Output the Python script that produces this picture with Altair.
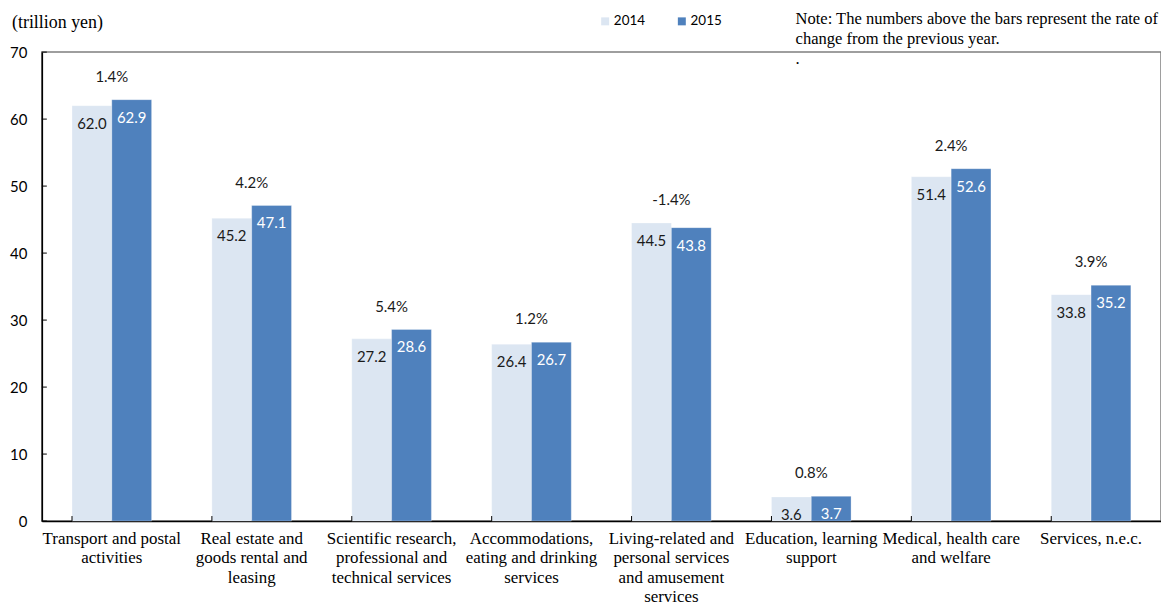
import altair as alt
import pandas as pd

categories = [
    "Transport and postal\nactivities",
    "Real estate and\ngoods rental and\nleasing",
    "Scientific research,\nprofessional and\ntechnical services",
    "Accommodations,\neating and drinking\nservices",
    "Living-related and\npersonal services\nand amusement\nservices",
    "Education, learning\nsupport",
    "Medical, health care\nand welfare",
    "Services, n.e.c.",
]
values_2014 = [62.0, 45.2, 27.2, 26.4, 44.5, 3.6, 51.4, 33.8]
values_2015 = [62.9, 47.1, 28.6, 26.7, 43.8, 3.7, 52.6, 35.2]
rates = [1.4, 4.2, 5.4, 1.2, -1.4, 0.8, 2.4, 3.9]
years = ["2014", "2015"]
y_ticks = [0, 10, 20, 30, 40, 50, 60, 70]

rows = []
for c, a, b in zip(categories, values_2014, values_2015):
    rows.append({"cat": c, "year": "2014", "value": a})
    rows.append({"cat": c, "year": "2015", "value": b})
bars_df = pd.DataFrame(rows)
rate_df = pd.DataFrame({
    "cat": categories,
    "top": [max(a, b) for a, b in zip(values_2014, values_2015)],
    "rate": [f"{r:.1f}%" for r in rates],
    "zero": [0] * len(categories),
})
ytick_df = pd.DataFrame({"v": y_ticks})
note_df = pd.DataFrame({"t": ["note"]})

SERIF = "Liberation Serif"
SANS = "Lato"

xscale = alt.Scale(domain=categories, paddingInner=0.431, paddingOuter=0.2155)
xaxis = alt.Axis(labels=False, ticks=False, domainColor="black", domainWidth=1.5, title=None)
yscale = alt.Scale(domain=[0, 70], nice=False)
yaxis = alt.Axis(values=y_ticks, grid=False, ticks=False,
                 labelFont=SANS, labelFontSize=15, labelColor="black",
                 labelPadding=15, domainColor="black", domainWidth=1.5, title=None)

X = lambda **kw: alt.X("cat:N", scale=xscale, sort=categories, axis=xaxis, title=None, **kw)

bars = alt.Chart(bars_df).mark_bar(stroke="white", strokeWidth=0.5, strokeOpacity=0.6).encode(
    x=X(),
    xOffset=alt.XOffset("year:N", sort=years, scale=alt.Scale(paddingInner=0, paddingOuter=0)),
    y=alt.Y("value:Q", scale=yscale, axis=yaxis, title=None),
    color=alt.Color("year:N", sort=years,
                    scale=alt.Scale(domain=years, range=["#DCE6F2", "#4F81BD"]),
                    legend=alt.Legend(title=None, orient="none", direction="horizontal",
                                      legendX=559, legendY=-38, symbolType="square",
                                      symbolSize=64, symbolStrokeWidth=0,
                                      labelFont=SANS, labelFontSize=13.5, labelColor="black",
                                      labelOffset=2, columnPadding=30, padding=0)),
)

value_labels = alt.Chart(bars_df).mark_text(baseline="middle", dy=18, font=SANS, fontSize=15).encode(
    x=X(),
    xOffset=alt.XOffset("year:N", sort=years),
    y=alt.Y("value:Q", scale=yscale, axis=yaxis, title=None),
    text=alt.Text("value:Q", format=".1f"),
    color=alt.Color("year:N", scale=alt.Scale(domain=years, range=["#1a1a1a", "white"]), legend=None),
)

rate_labels = alt.Chart(rate_df).mark_text(baseline="middle", dy=-23, font=SANS, fontSize=15, color="#1a1a1a").encode(
    x=X(),
    y=alt.Y("top:Q", scale=yscale, axis=yaxis, title=None),
    text="rate:N",
)

cat_labels = alt.Chart(rate_df).mark_text(
    baseline="top", dy=10, font=SERIF, fontSize=17, color="black", lineBreak="\n", lineHeight=19.5,
).encode(
    x=X(),
    y=alt.Y("zero:Q", scale=yscale, axis=yaxis, title=None),
    text="cat:N",
)

x_ticks = alt.Chart(rate_df).mark_rule(color="black", strokeWidth=1).encode(
    x=X(bandPosition=0),
    y=alt.datum(0, scale=yscale),
    y2=alt.datum(0.75),
)

y_tick_marks = alt.Chart(ytick_df).mark_rule(color="black", strokeWidth=1).encode(
    y=alt.Y("v:Q", scale=yscale, axis=yaxis, title=None),
    x=alt.value(0), x2=alt.value(5),
)

note = alt.Chart(note_df).mark_text(
    align="left", baseline="middle", font=SERIF, fontSize=16.6, color="black", lineHeight=20,
).encode(
    x=alt.value(757), y=alt.value(-33),
    text=alt.value(["Note: The numbers above the bars represent the rate of",
                    "change from the previous year.", "."]),
)

unit = alt.Chart(note_df).mark_text(
    align="left", baseline="middle", font=SERIF, fontSize=18, color="black",
).encode(
    x=alt.value(-30), y=alt.value(-29), text=alt.value("(trillion yen)"),
)

chart = alt.layer(bars, value_labels, rate_labels, cat_labels, x_ticks, y_tick_marks, note, unit).resolve_scale(color="independent").properties(
    width=1124, height=471,
    autosize=alt.AutoSizeParams(type="none"),
    padding={"left": 34, "top": 43, "right": 0, "bottom": 83},
).configure_view(stroke="#7f7f7f", strokeWidth=1.5)

chart.save("out.html", embed_options={"renderer": "svg", "actions": False})
